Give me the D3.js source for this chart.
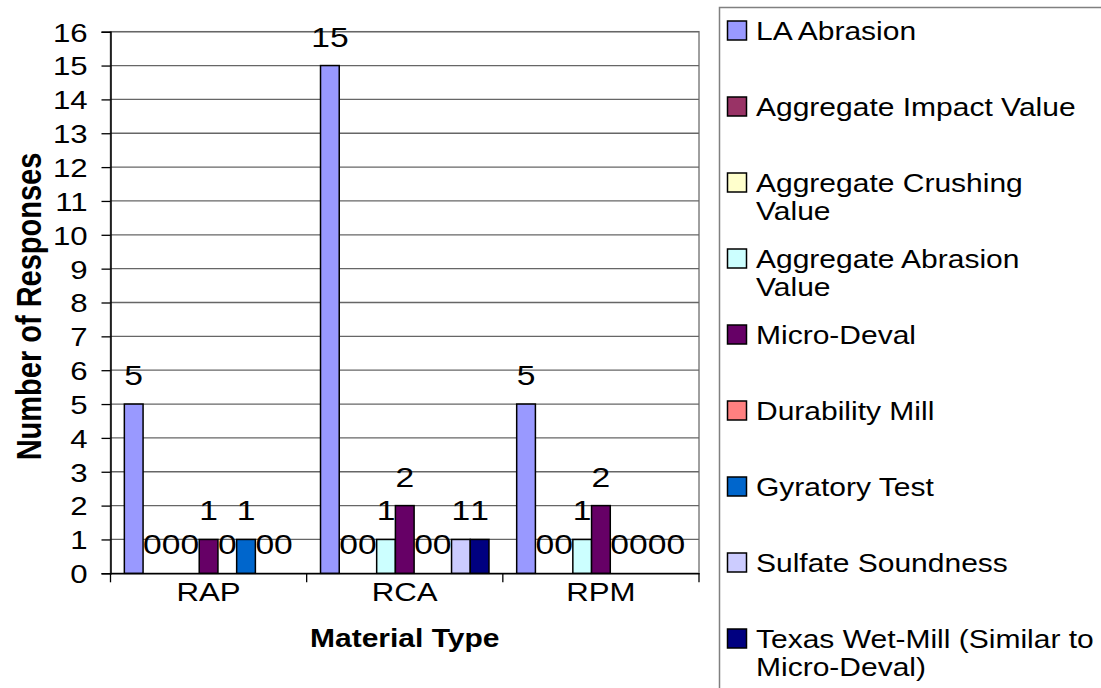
<!DOCTYPE html>
<html>
<head>
<meta charset="utf-8">
<script src="https://cdn.jsdelivr.net/npm/d3@7"></script>
<style>
  body { margin: 0; background: #fff; }
  text { font-family: "Liberation Sans", Arial, sans-serif; fill: #000; }
</style>
</head>
<body>
<svg id="chart" width="1101" height="688"></svg>
<script>
const categories = ["RAP", "RCA", "RPM"];
const series = ["LA Abrasion", "Aggregate Impact Value", "Aggregate Crushing Value",
  "Aggregate Abrasion Value", "Micro-Deval", "Durability Mill", "Gyratory Test",
  "Sulfate Soundness", "Texas Wet-Mill (Similar to Micro-Deval)"];
// legend wraps the same way the original does
const legendLines = [["LA Abrasion"], ["Aggregate Impact Value"], ["Aggregate Crushing", "Value"],
  ["Aggregate Abrasion", "Value"], ["Micro-Deval"], ["Durability Mill"], ["Gyratory Test"],
  ["Sulfate Soundness"], ["Texas Wet-Mill (Similar to", "Micro-Deval)"]];
const colors = ["#9999FF", "#993366", "#FFFFCC", "#CCFFFF", "#660066", "#FF8080", "#0066CC", "#CCCCFF", "#000080"];
// number of responses, one value per series (same order as above)
const rapValues = [5, 0, 0, 0, 1, 0, 1, 0, 0];
const rcaValues = [15, 0, 0, 1, 2, 0, 0, 1, 1];
const rpmValues = [5, 0, 0, 1, 2, 0, 0, 0, 0];
const yTicks = d3.range(0, 17);

const data = [rapValues, rcaValues, rpmValues].map((vals, i) => ({
  cat: categories[i],
  values: vals.map((v, j) => ({series: series[j], value: v}))
}));

const SX = 1.2; // the original text is drawn a bit wider than it is tall
const svg = d3.select("#chart");

const plot = {left: 110.5, right: 699, top: 31.7, bottom: 573.3};

const x0 = d3.scaleBand().domain(categories).range([plot.left, plot.right]);
const x1 = d3.scaleBand().domain(series).range([0, x0.bandwidth()]).paddingOuter(0.74);
const y = d3.scaleLinear().domain([0, 16]).range([plot.bottom, plot.top]);
const color = d3.scaleOrdinal().domain(series).range(colors);

// plot area border
svg.append("rect")
    .attr("x", plot.left).attr("y", plot.top)
    .attr("width", plot.right - plot.left).attr("height", plot.bottom - plot.top)
    .attr("fill", "none").attr("stroke", "#808080").attr("stroke-width", 1.5);

// gridlines
svg.append("g").selectAll("line")
  .data(yTicks.filter(d => d > 0))
  .join("line")
    .attr("x1", plot.left).attr("x2", plot.right)
    .attr("y1", d => y(d)).attr("y2", d => y(d))
    .attr("stroke", "#666").attr("stroke-width", 1.3);

// bars
const groups = svg.append("g").selectAll("g.cat")
  .data(data)
  .join("g")
    .attr("class", "cat")
    .attr("transform", d => `translate(${x0(d.cat)},0)`);

groups.selectAll("rect")
  .data(d => d.values.filter(v => v.value > 0))
  .join("rect")
    .attr("x", d => x1(d.series))
    .attr("y", d => y(d.value))
    .attr("width", x1.bandwidth())
    .attr("height", d => y(0) - y(d.value))
    .attr("fill", d => color(d.series))
    .attr("stroke", "#000")
    .attr("stroke-width", 1.5);

// value labels (zeros too)
groups.selectAll("text.val")
  .data(d => d.values)
  .join("text")
    .attr("class", "val")
    .attr("text-anchor", "middle")
    .style("font-size", "28px")
    .attr("transform", d => `translate(${x1(d.series) + x1.bandwidth() / 2},${y(d.value) - 19}) scale(${SX},1)`)
    .text(d => d.value);

// y axis
svg.append("g")
    .attr("transform", `translate(${plot.left},0)`)
    .call(d3.axisLeft(y).tickValues(yTicks).tickSize(9).tickPadding(10).tickFormat(d3.format("d")))
    .call(g => g.select(".domain").attr("stroke", "#000").attr("stroke-width", 1.5))
    .call(g => g.selectAll(".tick line").attr("stroke", "#000").attr("stroke-width", 1.3))
    .call(g => g.selectAll(".tick text")
        .style("font-size", "26px")
        .style("font-family", "'Liberation Sans', Arial, sans-serif")
        .attr("dy", "0.36em")
        .attr("transform", `scale(${SX},1)`));

// x axis
const xAxis = svg.append("g")
    .attr("transform", `translate(0,${plot.bottom})`)
    .call(d3.axisBottom(x0).tickSize(0).tickPadding(9))
    .call(g => g.select(".domain").attr("stroke", "#000").attr("stroke-width", 1.5))
    .call(g => g.selectAll(".tick text")
        .style("font-size", "26px")
        .style("font-family", "'Liberation Sans', Arial, sans-serif")
        .attr("transform", `scale(${SX},1)`));

// category boundary ticks
xAxis.append("g").selectAll("line")
  .data(categories.map(c => x0(c)).concat([plot.right]))
  .join("line")
    .attr("x1", d => d).attr("x2", d => d)
    .attr("y1", 0).attr("y2", 9)
    .attr("stroke", "#000").attr("stroke-width", 1.3);

// axis titles
svg.append("text")
    .attr("text-anchor", "middle")
    .style("font-size", "25px").style("font-weight", "bold")
    .attr("transform", `translate(${(plot.left + plot.right) / 2},647) scale(${SX},1)`)
    .text("Material Type");

svg.append("text")
    .attr("text-anchor", "middle")
    .attr("dy", "0.36em")
    .style("font-size", "29px").style("font-weight", "bold")
    .attr("transform", `translate(28,${(plot.top + plot.bottom) / 2 + 4}) scale(${SX},1) rotate(-90)`)
    .text("Number of Responses");

// legend
const legend = svg.append("g");
legend.append("rect")
    .attr("x", 719.5).attr("y", 7.5)
    .attr("width", 420).attr("height", 720)
    .attr("fill", "#fff").attr("stroke", "#808080").attr("stroke-width", 1.5);

const rowY = d3.scalePoint().domain(series).range([30.5, 30.5 + 76 * 8]);
const items = legend.selectAll("g.item")
  .data(series)
  .join("g")
    .attr("class", "item")
    .attr("transform", d => `translate(0,${rowY(d)})`);

items.append("rect")
    .attr("x", 727.5).attr("y", -9.5)
    .attr("width", 19).attr("height", 19)
    .attr("fill", d => color(d))
    .attr("stroke", "#000").attr("stroke-width", 1.5);

items.each(function(d, i) {
  d3.select(this).selectAll("text")
    .data(legendLines[i])
    .join("text")
      .style("font-size", "25px")
      .attr("dy", "0.36em")
      .attr("transform", (line, k) => `translate(756,${k * 28}) scale(${SX},1)`)
      .text(line => line);
});
</script>
</body>
</html>
